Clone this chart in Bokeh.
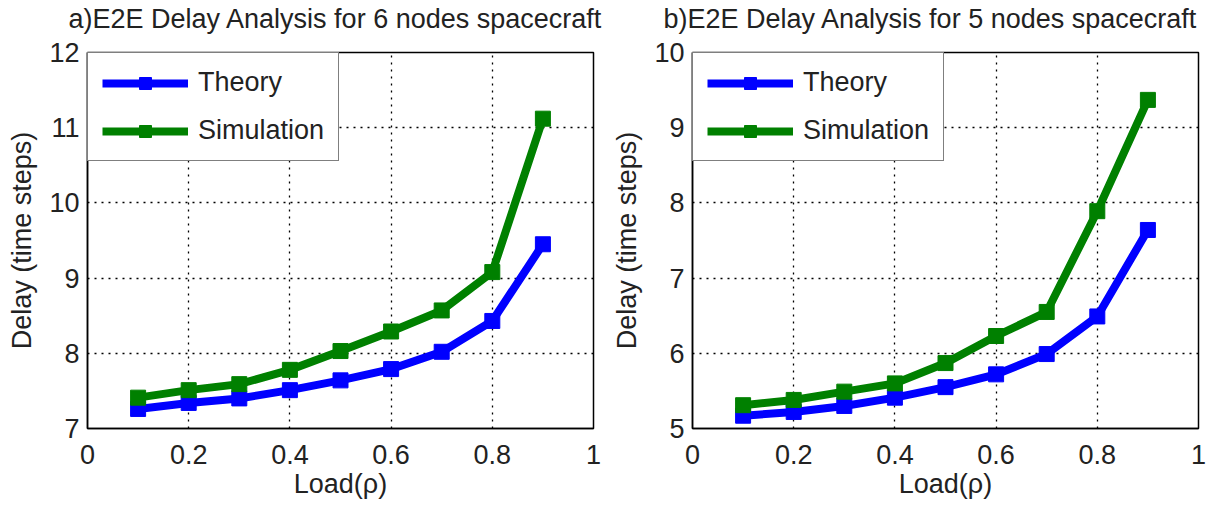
from bokeh.plotting import figure
from bokeh.layouts import row
from bokeh.models import Range1d, FixedTicker, Legend, LegendItem, Title
from bokeh.embed import file_html
from bokeh.resources import INLINE

# Offered load (rho)
load = [0.1, 0.2, 0.3, 0.4, 0.5, 0.6, 0.7, 0.8, 0.9]

# a) 6-node spacecraft: end-to-end delay (time steps)
theory_6 = [7.26, 7.34, 7.40, 7.51, 7.64, 7.79, 8.02, 8.43, 9.45]
simulation_6 = [7.41, 7.51, 7.59, 7.78, 8.03, 8.29, 8.57, 9.08, 11.12]

# b) 5-node spacecraft: end-to-end delay (time steps)
theory_5 = [5.17, 5.22, 5.30, 5.41, 5.55, 5.72, 5.99, 6.49, 7.64]
simulation_5 = [5.31, 5.38, 5.49, 5.60, 5.87, 6.23, 6.55, 7.89, 9.37]

x_ticks = [0, 0.2, 0.4, 0.6, 0.8, 1]
x_tick_labels = ["0", "0.2", "0.4", "0.6", "0.8", "1"]
y_ticks_6 = [7, 8, 9, 10, 11, 12]
y_ticks_5 = [5, 6, 7, 8, 9, 10]

series_names = ["Theory", "Simulation"]
BLUE = "#0000ff"
GREEN = "#008000"
FONT = "Liberation Sans"
TEXT = "#222222"


def panel(title, theory, simulation, y_ticks, bottom_border, title_shift):
    p = figure(width=605, height=506,
               x_range=Range1d(x_ticks[0], x_ticks[-1]),
               y_range=Range1d(y_ticks[0], y_ticks[-1]),
               output_backend="svg", toolbar_location=None,
               min_border_left=87, min_border_right=12,
               min_border_top=52, min_border_bottom=bottom_border)
    p.title = None
    p.background_fill_color = "white"
    p.border_fill_color = "white"
    p.outline_line_color = "black"
    p.outline_line_width = 1.5

    # thin blank band between the frame and the heading, then the heading
    gap = Title(text=" ", text_font=FONT, text_font_size="6px",
                standoff=6)
    p.add_layout(gap, "above")
    head = Title(text=title, text_font=FONT, text_font_size="27px",
                 text_font_style="normal", text_color=TEXT,
                 align="left", vertical_align="top",
                 offset=title_shift, standoff=6)
    p.add_layout(head, "above")

    p.xaxis.ticker = FixedTicker(ticks=x_ticks)
    p.xaxis.major_label_overrides = dict(zip(x_ticks, x_tick_labels))
    p.yaxis.ticker = FixedTicker(ticks=y_ticks)
    for ax in (p.xaxis[0], p.yaxis[0]):
        ax.axis_line_color = "black"
        ax.axis_line_width = 1.5
        ax.major_tick_in = 0
        ax.major_tick_out = 0
        ax.minor_tick_in = 0
        ax.minor_tick_out = 0
        ax.major_label_text_font = FONT
        ax.major_label_text_font_size = "27px"
        ax.major_label_text_color = TEXT
        ax.axis_label_text_font = FONT
        ax.axis_label_text_font_size = "27px"
        ax.axis_label_text_font_style = "normal"
        ax.axis_label_text_color = TEXT
    p.xaxis.axis_label = "Load(\u03c1)"
    p.xaxis.major_label_standoff = 16
    p.xaxis.axis_label_standoff = 2
    p.yaxis.axis_label = "Delay (time steps)"
    p.yaxis.major_label_standoff = 8
    p.yaxis.axis_label_standoff = 9

    p.xgrid.ticker = FixedTicker(ticks=x_ticks[1:-1])
    p.ygrid.ticker = FixedTicker(ticks=y_ticks[1:-1])
    for g in (p.xgrid[0], p.ygrid[0]):
        g.grid_line_color = "black"
        g.grid_line_width = 1.3
        g.grid_line_dash = "2 5"

    items = []
    for name, vals, color in zip(series_names, [theory, simulation], [BLUE, GREEN]):
        ln = p.line(load, vals, line_color=color, line_width=8, line_join="miter")
        sq = p.scatter(load, vals, marker="square", size=15,
                       fill_color=color, line_color=color)
        items.append(LegendItem(label=name, renderers=[ln, sq]))

    legend = Legend(items=items, location="top_left")
    legend.margin = 0
    legend.padding = 14
    legend.spacing = 17
    legend.glyph_width = 86
    legend.glyph_height = 30
    legend.label_height = 30
    legend.label_width = 120
    legend.label_standoff = 10
    legend.label_text_font = FONT
    legend.label_text_font_size = "27px"
    legend.label_text_color = TEXT
    legend.border_line_color = "black"
    legend.border_line_width = 1.5
    legend.background_fill_color = "white"
    legend.background_fill_alpha = 1.0
    p.add_layout(legend)
    return p


left = panel("a)E2E Delay Analysis for 6 nodes spacecraft",
             theory_6, simulation_6, y_ticks_6, 74, -19)
right = panel("b)E2E Delay Analysis for 5 nodes spacecraft",
              theory_5, simulation_5, y_ticks_5, 78, -29)

layout = row(left, right)
open("out.html", "w").write(file_html(layout, INLINE))
